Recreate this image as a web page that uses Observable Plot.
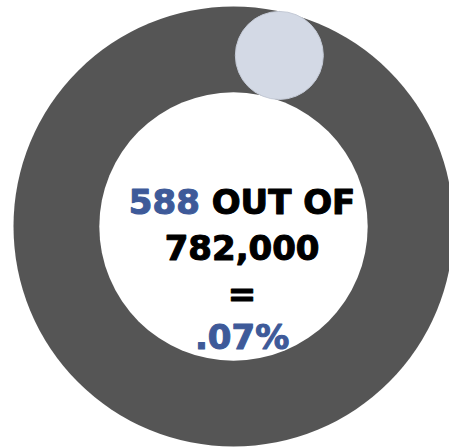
<!DOCTYPE html>
<html>
<head>
<meta charset="utf-8">
<script src="https://cdn.jsdelivr.net/npm/d3@7"></script>
<script src="https://cdn.jsdelivr.net/npm/@observablehq/plot@0.6"></script>
<style>
  html, body { margin: 0; padding: 0; background: #fff; }
  #chart { width: 449px; height: 447px; }
</style>
</head>
<body>
<div id="chart"></div>
<script>
// ---- data ----
const numerator = [588];
const denominator = [782000];
const percentLabels = [".07%"];
const connector = ["OUT OF"];
const equalsSign = ["="];

// ---- layout (unit circle coordinates, 1 = outer radius) ----
const W = 449, H = 447, R = 220, CX = 233, CY = 226;
const ring = [{x: 0, y: 0, outer: 1, inner: 0.61}];
const bubbleAngle = 15 * Math.PI / 180;
const bubbleDist = 0.805;
const bubble = [{x: bubbleDist * Math.sin(bubbleAngle), y: bubbleDist * Math.cos(bubbleAngle), r: 0.2}];

const blue = "#3e5a99";
const fmt = d3.format(",");
const textX = 0.039;
const lines = [
  {text: `${numerator[0]} ${connector[0]}`, y: 0.107, fill: "#000"},
  {text: fmt(denominator[0]), y: -0.102, fill: "#000"},
  {text: equalsSign[0], y: -0.314, fill: "#000"},
  {text: percentLabels[0], y: -0.509, fill: blue}
];

const font = "'DejaVu Sans', sans-serif";

const chart = Plot.plot({
  width: W, height: H,
  margin: 0,
  x: {domain: [-CX / R, (W - CX) / R], axis: null},
  y: {domain: [(CY - H) / R, CY / R], axis: null},
  r: {type: "linear", domain: [0, 1], range: [0, R]},
  style: {fontFamily: font, background: "#fff"},
  marks: [
    Plot.dot(ring, {x: "x", y: "y", r: "outer", fill: "#555555"}),
    Plot.dot(ring, {x: "x", y: "y", r: "inner", fill: "#ffffff"}),
    Plot.dot(bubble, {x: "x", y: "y", r: "r", fill: "#d3d9e5", stroke: "#c4cad6", strokeWidth: 1}),
    Plot.text(lines, {x: () => textX, y: "y", text: "text", fill: "fill", stroke: "fill",
      strokeWidth: 1.1, fontSize: 34, fontWeight: "bold", textAnchor: "middle", className: "centerText"})
  ]
});

// colour the numerator in the first line blue
d3.select(chart).selectAll(".centerText text").each(function() {
  const t = d3.select(this);
  const s = t.text();
  if (s.startsWith(String(numerator[0]) + " ")) {
    t.text(null);
    t.append("tspan").attr("fill", blue).attr("stroke", blue).text(String(numerator[0]));
    t.append("tspan").attr("fill", "#000").attr("stroke", "#000").text(" " + connector[0]);
  }
});

document.getElementById("chart").appendChild(chart);
</script>
</body>
</html>
